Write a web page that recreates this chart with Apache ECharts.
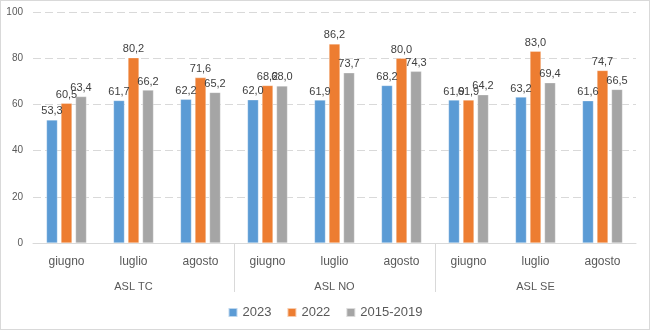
<!DOCTYPE html>
<html><head><meta charset="utf-8">
<script src="https://cdn.jsdelivr.net/npm/echarts@6/dist/echarts.min.js"></script>
<style>html,body{margin:0;padding:0;background:#fff}#c{width:650px;height:330px;box-sizing:border-box;border:1px solid #d9d9d9}</style>
</head><body><div id="c"></div>
<script>
const months = ['giugno','luglio','agosto','giugno','luglio','agosto','giugno','luglio','agosto'];
const groups = ['ASL TC','ASL NO','ASL SE'];
const s2023 = [53.3,61.7,62.2,62.0,61.9,68.2,61.9,63.2,61.6];
const s2022 = [60.5,80.2,71.6,68.2,86.2,80.0,61.9,83.0,74.7];
const sRef = [63.4,66.2,65.2,68.0,73.7,74.3,64.2,69.4,66.5];
const yTicks = [0,20,40,60,80,100];

const font = 'Liberation Sans';
const chart = echarts.init(document.getElementById('c'));
function bar(name, data, color){
  return {name, type:'bar', data, barWidth:11, barGap:'32%',
    itemStyle:{color, borderColor:'rgba(255,255,255,0.6)', borderWidth:0.5},
    label:{show:true, position:'top', distance:3, fontFamily:font, fontSize:11, color:'#404040',
      formatter:p=>p.value.toFixed(1).replace('.',',')}};
}
chart.setOption({
  animation:false,
  textStyle:{fontFamily:font},
  grid:{left:32, right:13, top:11, bottom:86},
  legend:{bottom:5, left:'center', itemWidth:9, itemHeight:9, itemGap:15,
    icon:'rect', textStyle:{fontFamily:font, fontSize:13, color:'#595959'},
    data:['2023','2022','2015-2019']},
  xAxis:[
    {type:'category', data:months, position:'bottom',
     axisLine:{lineStyle:{color:'#d9d9d9'}},
     axisTick:{show:false},
     axisLabel:{fontFamily:font, fontSize:12, color:'#595959', margin:13, interval:0}},
    {type:'category', data:groups, position:'bottom', offset:24,
     axisLine:{show:false}, axisTick:{show:false},
     axisLabel:{fontFamily:font, fontSize:11, color:'#595959', margin:14}},
    {type:'value', min:0, max:months.length, position:'bottom',
     axisLine:{show:false}, splitLine:{show:false}, axisLabel:{show:false},
     axisTick:{show:true, length:49, customValues:[3,6], lineStyle:{color:'#d9d9d9'}}}
  ],
  yAxis:{type:'value', min:0, max:100, interval:20,
    axisLine:{show:false}, axisTick:{show:false},
    axisLabel:{fontFamily:font, fontSize:10, color:'#595959', margin:10,
      formatter:v=>yTicks.includes(v)?String(v):''},
    splitLine:{lineStyle:{color:'#d9d9d9', type:[8,4]}}},
  series:[bar('2023',s2023,'#5B9BD5'), bar('2022',s2022,'#ED7D31'), bar('2015-2019',sRef,'#A5A5A5')]
});
</script></body></html>
